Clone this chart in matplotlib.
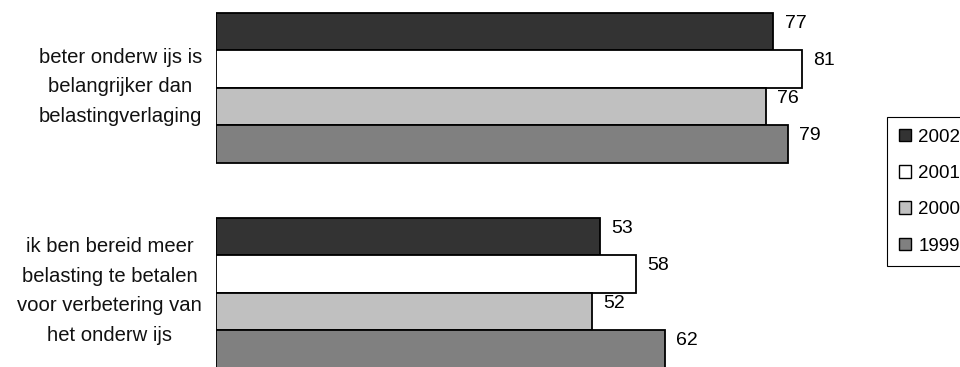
import matplotlib
matplotlib.use("Agg")
import matplotlib.pyplot as plt
from matplotlib.patches import Patch

plt.rcParams['font.family'] = ['Liberation Sans', 'DejaVu Sans']

categories = ["beter onderw ijs is\nbelangrijker dan\nbelastingverlaging",
              "ik ben bereid meer\nbelasting te betalen\nvoor verbetering van\nhet onderw ijs"]
years = ["2002", "2001", "2000", "1999"]
values = {
    "2002": [77, 53],
    "2001": [81, 58],
    "2000": [76, 52],
    "1999": [79, 62],
}
colors = {"2002": "#333333", "2001": "#ffffff", "2000": "#c0c0c0", "1999": "#808080"}

W, H = 960, 367
fig = plt.figure(figsize=(W / 100, H / 100), dpi=100)
ax = fig.add_axes([216 / W, 0, 90 * 7.24 / W, 1])
ax.set_xlim(0, 90)
ax.set_ylim(-0.361, 1.429)
for s in ax.spines.values():
    s.set_visible(False)
ax.set_xticks([])
ax.set_yticks([])

group_y = [1, 0]
h = 37.5 / 205
offsets = [1.5 * h, 0.5 * h, -0.5 * h, -1.5 * h]
for yr, off in zip(years, offsets):
    ys = [g + off for g in group_y]
    ax.barh(ys, values[yr], height=h, color=colors[yr], edgecolor="black",
            linewidth=1.3, clip_on=True)
    for yv, v in zip(ys, values[yr]):
        ax.annotate(str(v), (v, yv), xytext=(8, 6), textcoords="offset points",
                    ha="left", va="center", fontsize=14, color="black")

label_y_px = [87, 291]
for cat, ypx in zip(categories, label_y_px):
    fig.text(202 / W, 1 - ypx / H, cat, ha="right", va="center",
             multialignment="center", fontsize=14.6, linespacing=1.72, color="#111111")

handles = [Patch(facecolor=colors[y], edgecolor="black", linewidth=1.0) for y in years]
leg = fig.legend(handles, years, loc="upper left",
                 bbox_to_anchor=(887 / W, 1 - 117 / H), borderaxespad=0,
                 fontsize=13.5, handlelength=0.67, handleheight=0.67,
                 handletextpad=0.37, labelspacing=1.03, borderpad=0.62,
                 fancybox=False, framealpha=1, edgecolor="black")
leg.get_frame().set_linewidth(0.8)

fig.savefig("out.png", dpi=100)
